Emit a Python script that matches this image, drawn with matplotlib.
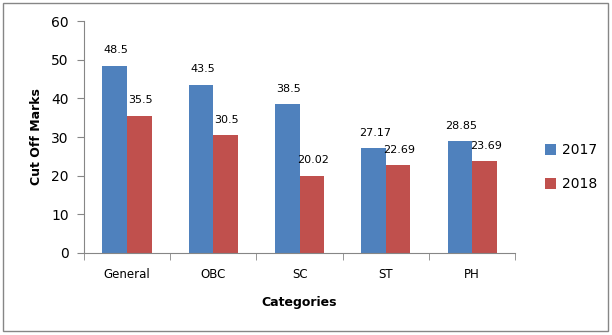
import numpy as np
import matplotlib.pyplot as plt
from matplotlib.patches import Rectangle

categorias = ['General', 'OBC', 'SC', 'ST', 'PH']
marcas_2017 = [48.5, 43.5, 38.5, 27.17, 28.85]
marcas_2018 = [35.5, 30.5, 20.02, 22.69, 23.69]
etiquetas_2017 = ['48.5', '43.5', '38.5', '27.17', '28.85']
etiquetas_2018 = ['35.5', '30.5', '20.02', '22.69', '23.69']

azul = '#4f81bd'
rojo = '#c0504d'
gris = '#868686'

plt.rcParams['font.family'] = ['DejaVu Sans']

fig = plt.figure(figsize=(6.12, 3.35), dpi=100)
ax = fig.add_axes([0.137, 0.245, 0.705, 0.692])

x = np.arange(len(categorias))
ancho = 0.285
b1 = ax.bar(x - ancho / 2, marcas_2017, ancho, color=azul, label='2017')
b2 = ax.bar(x + ancho / 2, marcas_2018, ancho, color=rojo, label='2018')

for barras, etiquetas in ((b1, etiquetas_2017), (b2, etiquetas_2018)):
    for b, t in zip(barras, etiquetas):
        ax.annotate(t, (b.get_x() + b.get_width() / 2, b.get_height()),
                    xytext=(1, 7.5), textcoords='offset points',
                    ha='center', va='bottom', fontsize=8)

ax.set_xlim(-0.5, len(categorias) - 0.5)
ax.set_ylim(0, 60)
ax.set_yticks(range(0, 61, 10))
ax.set_xticks(x)
ax.set_xticklabels(categorias, fontsize=8.5)
ax.set_xticks(np.arange(-0.5, len(categorias)), minor=True)
ax.tick_params(axis='x', which='major', length=0, pad=11)
ax.tick_params(axis='x', which='minor', length=5, color=gris)
ax.tick_params(axis='y', length=5, color=gris, labelsize=10, pad=6)

for lado in ('top', 'right'):
    ax.spines[lado].set_visible(False)
for lado in ('left', 'bottom'):
    ax.spines[lado].set_color(gris)

ax.set_ylabel('Cut Off Marks', fontsize=9, fontweight='bold', labelpad=6)
ax.set_xlabel('Categories', fontsize=9, fontweight='bold', labelpad=11)

ax.legend(loc='center left', bbox_to_anchor=(1.04, 0.37), frameon=False,
          fontsize=10, handlelength=0.8, handleheight=0.8, labelspacing=1.45,
          handletextpad=0.4)

fig.patches.append(Rectangle((0.005, 0.012), 0.989, 0.978, transform=fig.transFigure,
                             fill=False, edgecolor=gris, linewidth=1))

fig.savefig('out.png', dpi=100)
